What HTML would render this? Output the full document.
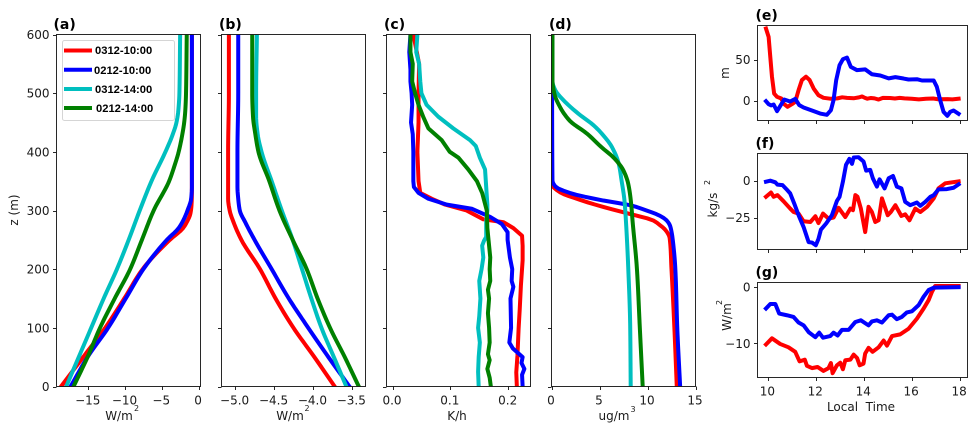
<!DOCTYPE html>
<html>
<head>
<meta charset="utf-8">
<title>Vertical profiles and time series</title>
<style>
html,body{margin:0;padding:0;background:#fff;}
svg{display:block;}
text{font-family:"DejaVu Sans","Liberation Sans",sans-serif;font-size:12px;fill:#1a1a1a;}
.panel-title{font-weight:bold;font-size:14px;fill:#000;}
.sup{font-size:8px;}
.legend-text{font-family:"Liberation Sans",sans-serif;font-weight:bold;font-size:11.2px;fill:#000;}
</style>
</head>
<body>
<svg id="chart" xmlns="http://www.w3.org/2000/svg" width="976" height="432" viewBox="0 0 976 432">
<rect x="0" y="0" width="976" height="432" fill="#fff"></rect>
<g id="marks"></g>
<g>
<text class="panel-title" x="53.500" y="29">(a)</text>
<text class="panel-title" x="219" y="29">(b)</text>
<text class="panel-title" x="384" y="29">(c)</text>
<text class="panel-title" x="549" y="29">(d)</text>
<text class="panel-title" x="755.500" y="20">(e)</text>
<text class="panel-title" x="755.500" y="148">(f)</text>
<text class="panel-title" x="755.500" y="277">(g)</text>
</g>
<g>
<text x="18" y="210" text-anchor="middle" transform="rotate(-90 18 210)">z (m)</text>
<text x="119" y="420" text-anchor="middle">W/m</text>
<text class="sup" x="134" y="411">2</text>
<text x="290" y="420" text-anchor="middle">W/m</text>
<text class="sup" x="304.500" y="411">2</text>
<text x="457" y="420" text-anchor="middle">K/h</text>
<text x="614" y="420" text-anchor="middle">ug/m</text>
<text class="sup" x="630.500" y="412">3</text>
<text x="729" y="73" text-anchor="middle" transform="rotate(-90 729 73)">m</text>
<text x="717" y="205" text-anchor="middle" transform="rotate(-90 717 205)">kg/s</text>
<text class="sup" transform="rotate(-90 710 185)" x="710" y="185">2</text>
<text x="731" y="317" text-anchor="middle" transform="rotate(-90 731 317)">W/m</text>
<text class="sup" transform="rotate(-90 722 305)" x="722" y="305">2</text>
<text x="861" y="411" text-anchor="middle" xml:space="preserve">Local  Time</text>
</g>
<g>
<rect x="62.500" y="40.500" width="112" height="80" rx="2" fill="#fff" fill-opacity="0.8" stroke="#d5d5d5" stroke-width="1"></rect>
<line x1="64" x2="92" y1="50.500" y2="50.500" stroke="#ff0000" stroke-width="4"></line>
<text class="legend-text" x="95" y="54">0312-10:00</text>
<line x1="64" x2="92" y1="69.700" y2="69.700" stroke="#0000ff" stroke-width="4"></line>
<text class="legend-text" x="94" y="74">0212-10:00</text>
<line x1="64" x2="92" y1="89" y2="89" stroke="#00bfbf" stroke-width="4"></line>
<text class="legend-text" x="95" y="93">0312-14:00</text>
<line x1="64" x2="92" y1="108" y2="108" stroke="#008000" stroke-width="4"></line>
<text class="legend-text" x="96" y="112">0212-14:00</text>
</g>
</svg>
<script>
// Panel (a)
const aRedZ=[600,500,400,330,310,295,280,270,250,200,150,100,50,0];
const aRedV=[-0.9,-0.9,-0.9,-0.9,-0.95,-1.1,-1.6,-2.1,-3.9,-7.6,-10.1,-12.7,-15.7,-18.7];
const aBlueZ=[600,500,400,340,320,300,285,270,250,200,150,100,50,0];
const aBlueV=[-0.9,-0.9,-0.9,-0.9,-1,-1.5,-2,-2.7,-4.3,-7.5,-9.9,-12.3,-15.1,-17.4];
const aCyanZ=[600,500,470,450,430,400,350,300,250,200,150,100,50,0];
const aCyanV=[-2.5,-2.6,-2.75,-3,-3.5,-4.5,-6.4,-8,-9.5,-11.1,-12.9,-14.6,-16.3,-18];
const aGreenZ=[600,500,470,450,430,400,375,350,300,250,200,150,100,50,0];
const aGreenV=[-1.6,-1.7,-1.8,-1.95,-2.2,-2.7,-3.3,-4,-6.1,-7.7,-9.3,-11.4,-13.4,-15.1,-17];
const aTicks=[-15,-10,-5,0];
// Panel (b)
const bRedZ=[600,500,400,340,320,300,280,250,200,150,100,50,0];
const bRedV=[-5.08,-5.08,-5.09,-5.09,-5.09,-5.07,-5.02,-4.92,-4.68,-4.48,-4.25,-3.98,-3.72];
const bBlueZ=[600,500,400,340,320,300,280,250,200,150,100,50,0];
const bBlueV=[-4.96,-4.96,-4.97,-4.97,-4.96,-4.94,-4.87,-4.75,-4.53,-4.31,-4.06,-3.8,-3.53];
const bCyanZ=[600,500,460,430,400,350,300,250,200,150,100,50,0];
const bCyanV=[-4.72,-4.73,-4.73,-4.71,-4.66,-4.53,-4.4,-4.26,-4.14,-4.02,-3.89,-3.73,-3.57];
const bGreenZ=[600,500,460,430,400,350,300,250,200,150,100,50,0];
const bGreenV=[-4.78,-4.78,-4.77,-4.74,-4.7,-4.56,-4.43,-4.26,-4.08,-3.94,-3.78,-3.59,-3.41];
const bTicks=[-5,-4.5,-4,-3.5];
// Panel (c)
const cRedZ=[600,550,500,450,400,350,330,320,310,300,285,280,270,257,240,215,172,132,98,52,24,0];
const cRedV=[0.036,0.046,0.045,0.045,0.043,0.045,0.048,0.068,0.091,0.128,0.157,0.192,0.209,0.224,0.225,0.225,0.222,0.22,0.218,0.216,0.214,0.215];
const cBlueZ=[600,570,540,520,500,480,450,430,400,350,340,330,320,310,303,289,277,263,250,220,200,180,170,150,100,75,65,50,40,30,20,0];
const cBlueV=[0.031,0.029,0.031,0.031,0.033,0.034,0.032,0.035,0.036,0.036,0.037,0.045,0.062,0.094,0.137,0.169,0.189,0.199,0.199,0.203,0.207,0.206,0.209,0.204,0.205,0.202,0.208,0.225,0.223,0.228,0.224,0.225];
const cCyanZ=[600,570,550,520,500,480,460,440,420,410,390,370,340,310,300,280,255,248,240,220,200,180,150,120,100,75,50,25,0];
const cCyanV=[0.043,0.041,0.046,0.048,0.05,0.059,0.079,0.105,0.134,0.144,0.151,0.16,0.162,0.164,0.164,0.162,0.162,0.158,0.155,0.157,0.154,0.15,0.152,0.15,0.148,0.151,0.149,0.148,0.149];
const cGreenZ=[600,570,550,520,500,480,460,440,420,400,390,370,350,330,300,270,250,220,200,180,165,150,125,100,75,55,45,30,15,0];
const cGreenV=[0.031,0.031,0.035,0.034,0.039,0.045,0.053,0.062,0.085,0.099,0.114,0.131,0.146,0.155,0.163,0.164,0.166,0.169,0.168,0.169,0.165,0.167,0.165,0.167,0.168,0.165,0.168,0.164,0.168,0.17];
const cTicks=[0,0.1,0.2];
// Panel (d)
const dRedZ=[600,350,343,331,318,306,294,283,275,268,260,254,200,100,0];
const dRedV=[0.05,0.05,0.1,0.9,3,5.4,8.2,10.6,11.3,11.8,12.15,12.3,12.5,12.8,13.05];
const dBlueZ=[600,351,341,330,317,309,300,291,283,274,264,254,200,100,0];
const dBlueV=[0.05,0.1,0.4,1.9,5.4,8.2,9.9,11.3,12,12.35,12.5,12.6,12.9,13.1,13.4];
const dCyanZ=[600,520,505,488,465,445,428,408,380,351,317,283,200,100,0];
const dCyanV=[0.1,0.1,0.4,1.25,2.8,4.4,5.4,6.3,7,7.3,7.6,7.75,8,8.2,8.25];
const dGreenZ=[600,522,499,476,453,431,408,388,368,345,311,283,200,100,0];
const dGreenV=[0.1,0.1,0.3,0.9,1.9,3.7,5.2,6.6,7.5,8,8.3,8.44,8.9,9.2,9.5];
const dTicks=[0,5,10,15];
const zTicks=[0,100,200,300,400,500,600];
// Panel (e)
const eRedT=[9.92,10.03,10.10,10.17,10.26,10.38,10.56,10.65,10.82,11.0,11.14,11.28,11.42,11.59,11.74,11.91,12.11,12.32,12.6,12.9,13.1,13.3,13.6,13.8,13.93,14.05,14.15,14.3,14.45,14.62,14.8,15.1,15.3,15.5,15.7,16.0,16.3,16.6,16.9,17.1,17.5,17.7,17.96];
const eRedV=[87.8,77.6,53,29,8.5,4.5,2.4,-3.7,-7.7,-4.5,-1.6,12.6,25,29,25,14.6,6.5,3.3,2.2,2.6,3.9,3.2,2.8,3.8,4.9,3.2,2.2,3.1,2.6,1.2,3.2,3,2.4,3.2,2.6,2.2,1.4,2.2,2.4,1.5,1.7,1.4,2.2];
const eBlueT=[9.92,10.03,10.14,10.24,10.38,10.51,10.68,10.93,11.14,11.31,11.49,11.91,12.18,12.46,12.63,12.74,12.85,12.99,13.13,13.30,13.46,13.72,14.06,14.34,14.69,15.04,15.32,15.66,15.87,16.22,16.43,16.92,17.05,17.19,17.33,17.49,17.61,17.75,17.96];
const eBlueV=[-0.8,-4.5,-6,-4.9,-13,-7,1.2,-1.2,2,-5.7,-8.5,-13,-15.9,-17.5,-11.8,0.4,24.8,43,50.4,52.4,41,37,38,32,30.5,27,28.5,26.8,25.6,26,24.4,24.4,16.7,0.4,-13.8,-18.7,-13.8,-12.2,-16.3];
const eTicks=[0,50];
// Panel (f)
const fRedT=[9.92,10.13,10.24,10.40,10.65,10.93,11.07,11.28,11.49,11.77,11.98,12.11,12.30,12.53,12.74,12.95,13.23,13.44,13.55,13.65,13.74,13.88,14.06,14.20,14.34,14.48,14.62,14.76,15.00,15.13,15.32,15.57,15.73,15.91,16.15,16.36,16.64,16.92,17.12,17.40,17.96];
const fRedV=[-10.9,-8,-10.9,-9.8,-13.9,-18.9,-21.2,-22.3,-27.5,-28,-24.1,-28.7,-22.3,-25.7,-25,-18.4,-24.6,-18.9,-20,-9.8,-10.9,-18.9,-34.8,-17.7,-21.2,-28,-26.8,-12,-23.4,-21.2,-16.6,-23.9,-22.8,-26.8,-18.9,-21.2,-17.7,-12,-5.2,-1.8,-0.5];
const fBlueT=[9.92,10.10,10.31,10.40,10.61,10.77,10.93,11.10,11.28,11.49,11.70,11.84,12.00,12.11,12.21,12.43,12.67,12.88,12.99,13.13,13.26,13.40,13.51,13.58,13.78,13.99,14.10,14.27,14.38,14.55,14.66,14.87,15.04,15.22,15.38,15.57,15.73,15.94,16.22,16.36,16.57,16.78,16.92,17.12,17.47,17.75,17.96];
const fBlueV=[-0.7,0,-1.1,-2.7,-3,-5.7,-8.6,-15.5,-23.4,-31.4,-41.6,-41.9,-43.7,-39.4,-33.2,-29,-23.4,-13.7,-10.9,-0.7,10.7,14.8,11.4,15.7,15.9,13,6.8,7.3,1.6,-4,0.9,-5.2,1.6,3.2,-4,-5.2,-14.3,-16.6,-14.8,-17,-14.3,-10.9,-9.8,-5.9,-5.7,-4.8,-2.5];
const fTicks=[-25,0];
// Panel (g)
const gRedT=[9.92,10.17,10.51,10.86,11.14,11.32,11.54,11.63,11.84,12.07,12.32,12.53,12.63,12.70,12.88,13.02,13.13,13.23,13.44,13.58,13.72,13.83,13.99,14.06,14.20,14.37,14.62,14.83,14.97,15.18,15.52,15.87,16.22,16.50,16.71,16.85,16.98,17.96];
const gRedV=[-10.2,-9.1,-10.1,-10.7,-11.5,-13.2,-12.9,-14,-14.4,-14.2,-14.9,-14.4,-13.5,-15.3,-13.9,-13.45,-14.6,-13,-12.9,-12,-12.6,-13.9,-13.6,-11.8,-10.8,-11.5,-10.7,-9.5,-10.4,-8.7,-8.4,-7.4,-5.6,-3.8,-2.3,-0.8,0.2,0.2];
const gBlueT=[9.92,10.10,10.31,10.47,10.79,11.07,11.28,11.49,11.70,11.98,12.14,12.30,12.60,12.74,12.91,13.09,13.37,13.65,13.88,14.20,14.34,14.55,14.76,15.04,15.18,15.38,15.59,15.80,16.01,16.29,16.50,16.71,16.92,17.96];
const gBlueV=[-3.8,-3,-3,-4.7,-5,-5.3,-6.3,-6.8,-8,-8.9,-8.1,-9,-8.7,-8.1,-8.6,-7.6,-7.6,-6.2,-5.9,-6.8,-6.1,-5.9,-6.3,-5,-4.9,-5.7,-5.3,-4.5,-4.3,-3.2,-1.7,-0.5,-0.1,0];
const gTicks=[-10,0];
const timeTicks=[10,12,14,16,18];

const NS='http://www.w3.org/2000/svg';
const RED='#ff0000',BLUE='#0000ff',CYAN='#00bfbf',GREEN='#008000';
const root=document.getElementById('marks');

function make(tag,attrs,parent){
  const n=document.createElementNS(NS,tag);
  for(const k in attrs)n.setAttribute(k,attrs[k]);
  (parent||root).appendChild(n);
  return n;
}
function scale(d0,d1,r0,r1){return v=>r0+(v-d0)*(r1-r0)/(d1-d0);}
function fmt(v){return String(v).replace('-','\u2212');}

// Monotone cubic curve of value against height, so smooth profiles have no kinks or overshoot.
function smoothProfile(vs,zs){
  const n=zs.length,d=[],m=new Array(n).fill(0),h=[];
  for(let i=0;i<n-1;i++){h[i]=zs[i+1]-zs[i];d[i]=(vs[i+1]-vs[i])/h[i];}
  m[0]=d[0];m[n-1]=d[n-2];
  for(let i=1;i<n-1;i++){
    if(d[i-1]*d[i]<=0){m[i]=0;continue;}
    const w1=2*h[i]+h[i-1],w2=h[i]+2*h[i-1];
    m[i]=(w1+w2)/(w1/d[i-1]+w2/d[i]);
  }
  const ox=[],oy=[];
  for(let i=0;i<n-1;i++){
    const steps=Math.max(2,Math.ceil(Math.abs(h[i])/4));
    for(let s=0;s<steps;s++){
      const t=s/steps,t2=t*t,t3=t2*t;
      ox.push((2*t3-3*t2+1)*vs[i]+(t3-2*t2+t)*h[i]*m[i]+(-2*t3+3*t2)*vs[i+1]+(t3-t2)*h[i]*m[i+1]);
      oy.push(zs[i]+t*h[i]);
    }
  }
  ox.push(vs[n-1]);oy.push(zs[n-1]);
  return {xs:ox,ys:oy};
}

function drawPanel(id,box,xlim,ylim,series,xticks,xlabels,yticks,ylabels){
  const g=make('g',{});
  
  
  const sx=scale(xlim[0],xlim[1],box.l,box.r);
  const sy=scale(ylim[0],ylim[1],box.b,box.t);
  const defs=make('defs',{},g);
  const cp=make('clipPath',{id:'clip-'+id},defs);
  make('rect',{x:box.l,y:box.t,width:box.r-box.l,height:box.b-box.t},cp);
  const lines=make('g',{'clip-path':'url(#clip-'+id+')'},g);
  series.forEach(s=>{
    const c=s.smooth?smoothProfile(s.xs,s.ys):s;
    const pts=c.xs.map((x,i)=>sx(x).toFixed(2)+','+sy(c.ys[i]).toFixed(2)).join(' ');
    const line=make('polyline',{points:pts,fill:'none',stroke:s.color,'stroke-width':4,'stroke-linejoin':'round','stroke-linecap':'square'},lines);
    
    
  });
  const frame=make('rect',{x:box.l,y:box.t,width:box.r-box.l,height:box.b-box.t,fill:'none',stroke:'#111','stroke-width':0.9},g);
  
  
  xticks.forEach(v=>{
    const x=Math.round(sx(v))+0.5;
    const tick=make('line',{x1:x,x2:x,y1:box.b,y2:box.b+3.5,stroke:'#111','stroke-width':0.9},g);
    
    
    if(xlabels){
      const t=make('text',{x:sx(v)-0.5,y:box.b+18,'text-anchor':'middle'},g);
      t.textContent=xlabels(v);
      
      
    }
  });
  yticks.forEach(v=>{
    const y=Math.round(sy(v))+0.5;
    const tick=make('line',{x1:box.l-3.5,x2:box.l,y1:y,y2:y,stroke:'#111','stroke-width':0.9},g);
    
    
    if(ylabels){
      const t=make('text',{x:box.l-7,y:sy(v)+4.5,'text-anchor':'end'},g);
      t.textContent=fmt(v);
      
      
    }
  });
}

const zLim=[0,600];
const timeLim=[9.566,18.33];
const oneDec=v=>fmt(v.toFixed(1));

drawPanel('a',{l:56.5,r:200.5,t:34.5,b:386.5},[-19.32,0.27],zLim,[
  {name:'0312-10',color:RED,xs:aRedV,ys:aRedZ,smooth:true},
  {name:'0212-10',color:BLUE,xs:aBlueV,ys:aBlueZ,smooth:true},
  {name:'0312-14',color:CYAN,xs:aCyanV,ys:aCyanZ,smooth:true},
  {name:'0212-14',color:GREEN,xs:aGreenV,ys:aGreenZ,smooth:true}
],aTicks,fmt,zTicks,true);
drawPanel('b',{l:221.5,r:365.5,t:34.5,b:386.5},[-5.175,-3.324],zLim,[
  {name:'0312-10',color:RED,xs:bRedV,ys:bRedZ,smooth:true},
  {name:'0212-10',color:BLUE,xs:bBlueV,ys:bBlueZ,smooth:true},
  {name:'0312-14',color:CYAN,xs:bCyanV,ys:bCyanZ,smooth:true},
  {name:'0212-14',color:GREEN,xs:bGreenV,ys:bGreenZ,smooth:true}
],bTicks,oneDec,zTicks,false);
drawPanel('c',{l:386.5,r:530.5,t:34.5,b:386.5},[-0.0104,0.2386],zLim,[
  {name:'0312-10',color:RED,xs:cRedV,ys:cRedZ},
  {name:'0212-10',color:BLUE,xs:cBlueV,ys:cBlueZ},
  {name:'0312-14',color:CYAN,xs:cCyanV,ys:cCyanZ},
  {name:'0212-14',color:GREEN,xs:cGreenV,ys:cGreenZ}
],cTicks,oneDec,zTicks,false);
drawPanel('d',{l:551.5,r:695.5,t:34.5,b:386.5},[0,15],zLim,[
  {name:'0312-10',color:RED,xs:dRedV,ys:dRedZ,smooth:true},
  {name:'0212-10',color:BLUE,xs:dBlueV,ys:dBlueZ,smooth:true},
  {name:'0312-14',color:CYAN,xs:dCyanV,ys:dCyanZ,smooth:true},
  {name:'0212-14',color:GREEN,xs:dGreenV,ys:dGreenZ,smooth:true}
],dTicks,fmt,zTicks,false);
drawPanel('e',{l:757.5,r:967.5,t:25.5,b:120.5},timeLim,[-24.4,91.5],[
  {name:'red',color:RED,xs:eRedT,ys:eRedV},
  {name:'blue',color:BLUE,xs:eBlueT,ys:eBlueV}
],timeTicks,null,eTicks,true);
drawPanel('f',{l:757.5,r:967.5,t:153.5,b:249.5},timeLim,[-46.6,18.4],[
  {name:'red',color:RED,xs:fRedT,ys:fRedV},
  {name:'blue',color:BLUE,xs:fBlueT,ys:fBlueV}
],timeTicks,null,fTicks,true);
drawPanel('g',{l:757.5,r:967.5,t:282.5,b:377.5},timeLim,[-16.07,0.82],[
  {name:'red',color:RED,xs:gRedT,ys:gRedV},
  {name:'blue',color:BLUE,xs:gBlueT,ys:gBlueV}
],timeTicks,fmt,gTicks,true);
</script>
</body>
</html>
